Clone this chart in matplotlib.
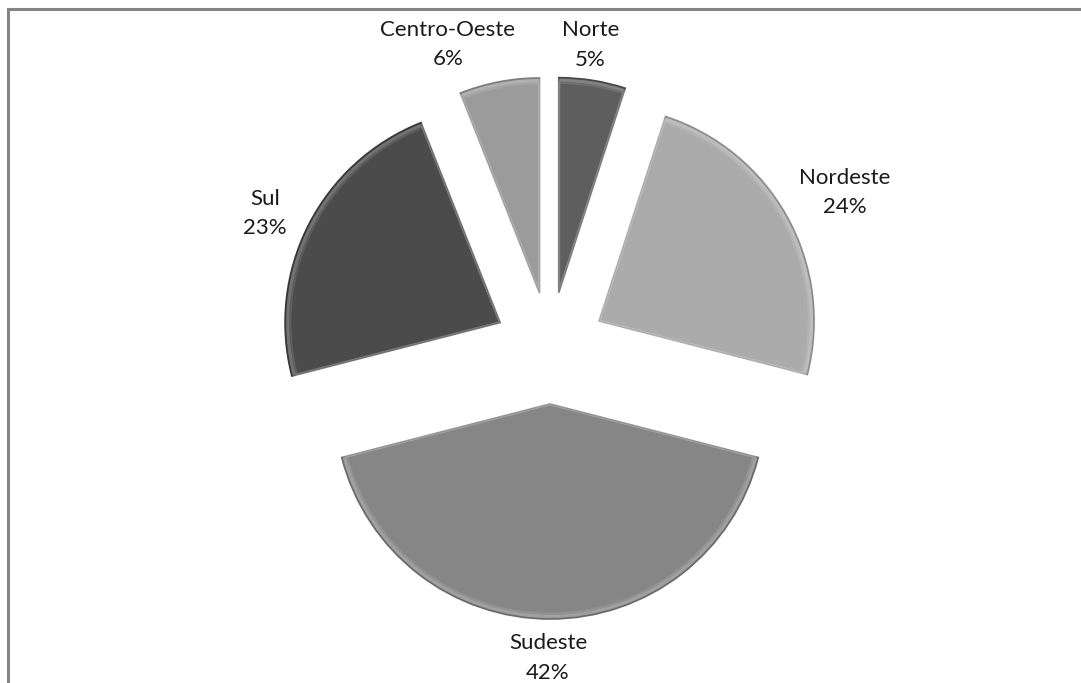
import matplotlib
matplotlib.use("Agg")
import matplotlib.pyplot as plt
from matplotlib.patches import Rectangle, Wedge

# Regions and their share
regions = ['Norte', 'Nordeste', 'Sudeste', 'Sul', 'Centro-Oeste']
shares = [5, 24, 42, 23, 6]
colors = ['#5e5e5e', '#ababab', '#868686', '#4b4b4b', '#9b9b9b']
edge_colors = ['#474747', '#8c8c8c', '#6a6a6a', '#373737', '#7c7c7c']

# small nudges (px) of each label from its default spot
label_nudge = [(-9, -9), (18, 3), (-2, 6), (-3, -9), (-43, -7)]

plt.rcParams['font.family'] = ['Lato', 'DejaVu Sans']

fig = plt.figure(figsize=(10.81, 6.83), dpi=100)
ax = fig.add_axes([0, 0, 1, 1])

labels = [f'{r}\n{s}%' for r, s in zip(regions, shares)]
# explode is in data units here (pixels), not a fraction of the radius
wedges, texts = ax.pie(shares, labels=labels, colors=colors,
                       startangle=90, counterclock=False,
                       explode=[56] * len(shares),
                       center=(550, 335), radius=215,
                       labeldistance=1.21, frame=True,
                       textprops={'fontsize': 16, 'color': '#1a1a1a'},
                       wedgeprops={'linewidth': 1.2})

for w, ec in zip(wedges, edge_colors):
    w.set_edgecolor(ec)
    # soft bevel: light rim just inside the outline
    for inset, alpha in [(2.5, 0.22), (5, 0.1)]:
        ax.add_patch(Wedge(w.center, w.r - inset, w.theta1, w.theta2,
                           facecolor='none', edgecolor='white',
                           linewidth=2, alpha=alpha))

for t, (dx, dy) in zip(texts, label_nudge):
    x, y = t.get_position()
    t.set_position((x + dx, y + dy))
    t.set_horizontalalignment('center')
    t.set_verticalalignment('center')
    t.set_linespacing(1.6)

ax.set_xlim(0, 1081)
ax.set_ylim(0, 683)
ax.set_aspect('equal')
ax.axis('off')

# Gray frame along the top and left
fig.add_artist(Rectangle((8 / 1081, -0.1), 1.2, 1 - 9 / 683 + 0.1,
                         transform=fig.transFigure, fill=False,
                         edgecolor='#858585', linewidth=2.2, clip_on=False))

fig.savefig('out.png', dpi=100)
